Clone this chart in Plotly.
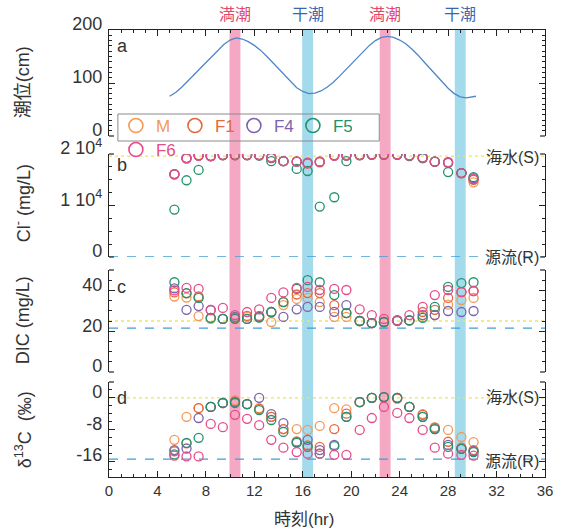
import plotly.graph_objects as go

# ---------------- data ----------------
tide_t = [5.0, 5.5, 6.0, 6.5, 7.0, 7.5, 8.0, 8.5, 9.0, 9.5, 10.0, 10.3, 10.5, 11.0, 11.5, 12.0,
          12.5, 13.0, 13.5, 14.0, 14.5, 15.0, 15.5, 16.0, 16.5, 17.0, 17.5, 18.0, 18.5, 19.0,
          19.5, 20.0, 20.5, 21.0, 21.5, 22.0, 22.5, 23.0, 23.5, 24.0, 24.5, 25.0, 25.5, 26.0,
          26.5, 27.0, 27.5, 28.0, 28.5, 29.0, 29.5, 30.0, 30.3]
tide_cm = [75, 82, 92, 103, 115, 127, 139, 151, 163, 173, 181, 184, 185, 183, 178, 171,
           162, 151, 139, 126, 113, 101, 91, 84, 80, 81, 85, 92, 101, 112,
           124, 137, 149, 160, 171, 180, 186, 188, 186, 181, 174, 164, 153, 140,
           127, 114, 101, 90, 80, 74, 72, 74, 75]

times = [5.4, 6.4, 7.4, 8.4, 9.4, 10.4, 11.4, 12.4, 13.4, 14.4, 15.5, 16.4, 17.4, 18.6,
         19.6, 20.7, 21.7, 22.7, 23.8, 24.8, 25.9, 26.9, 28.0, 29.1, 30.1]

series = ["M", "F1", "F4", "F5", "F6"]
colors = {"M": "#F39A58", "F1": "#E4683E", "F4": "#7D62AE", "F5": "#23936A", "F6": "#E64B8B"}

cl = {
    "M":  [16100, 19200, 19800, 19600, 19800, 19800, 19800, 19800, 19400, 18600, 18600, 18200, 18500,
           19800, 19800, 19800, 19900, 19900, 19900, 19700, 19300, 18500, 18400, 16300, 14500],
    "F1": [16000, 19100, 19700, 19600, 19800, 19800, 19800, 19800, 19300, 18600, 18500, 18200, 18400,
           19700, 19700, 19800, 19900, 19900, 19900, 19700, 19300, 18500, 18300, 16300, 15000],
    "F4": [16100, 19200, 19700, 19600, 19800, 19800, 19800, 19800, 19200, 18600, 18500, 18300, 18500,
           19700, 19700, 19800, 19900, 19900, 19900, 19700, 19200, 18500, 18300, 16300, 15300],
    "F5": [9200, 14900, 16900, 19600, 19800, 19800, 19800, 19700, 18600, 18600, 17100, 16700, 9800,
           11600, 18600, 19800, 19900, 19900, 19900, 19600, 19200, 18500, 16500, 16300, 15500],
    "F6": [16100, 19200, 19700, 19600, 19800, 19800, 19800, 19800, 19300, 18600, 18500, 18200, 18500,
           19700, 19800, 19800, 19900, 19900, 19900, 19700, 19300, 18500, 18400, 16300, 15100],
}
dic = {
    "M":  [37, 36.5, 27.4, 26, 26, 26, 27, 27, 24.5, 32.8, 35.8, 36.3, 34.3, 27, 27, 25, 24, 24.5,
           25.3, 25.3, 27, 28, 33, 35.3, 36.3],
    "F1": [39, 38.5, 37, 26.5, 26, 26.5, 27.5, 27.5, 29.4, 34.3, 38, 38.7, 38.7, 32.8, 28.9, 25, 24,
           24.5, 25.3, 25.3, 29.4, 30.5, 36.3, 39.2, 39.7],
    "F4": [41, 30.5, 32.3, 30.4, 26, 27, 26, 27, 29.4, 27, 30.7, 31.9, 31.9, 29.5, 32.8, 25, 24,
           24.5, 25, 25.3, 27.9, 27.9, 29.9, 29.4, 29.9],
    "F5": [44, 38.7, 36.3, 26.5, 26, 26, 26, 26.7, 29.4, 34.3, 40.7, 45, 44, 37.7, 28.9, 25, 24,
           24.5, 25.3, 25.3, 26.5, 31.9, 41.7, 43.6, 44],
    "F6": [40, 41.2, 40.7, 30.4, 31.4, 27.9, 29.4, 30.7, 36.3, 39, 41.2, 41.7, 40.2, 40.7, 40.2,
           30.7, 27.9, 26, 25.3, 27.9, 31.9, 37.7, 40.2, 39.2, 39.7],
}
d13c = {
    "M":  [-10.6, -4.8, -2.6, -2.3, -1.3, -0.6, -1.6, -2.6, -4.8, -7.9, -7.9, -8.1, -7.1, -2.6,
           -2.9, -1.1, 0, 0.2, 0, -2.3, -4.1, -7.4, -8.1, -9.9, -11.2],
    "F1": [-13.5, -11.5, -2.6, -2.3, -1.3, -0.9, -1.6, -2.8, -4.8, -7.9, -11.0, -12.0, -12.4, -7.9,
           -4.0, -1.1, 0, 0.2, -0.2, -2.3, -4.3, -7.6, -11.1, -12.6, -13.2],
    "F4": [-13.2, -12.8, -5.1, -2.3, -1.3, -1.1, -1.6, 0, -4.1, -6.4, -11.2, -10.6, -13.2, -11.9,
           -4.8, -1.1, 0, 0.2, 0, -2.3, -4.8, -7.9, -11.9, -12.9, -13.5],
    "F5": [-14.3, -11.4, -10.1, -2.3, -1.3, -1.3, -1.6, -3.1, -5.6, -8.6, -11.4, -12.4, -14.1, -12.2,
           -4.8, -1.1, 0, 0.2, 0, -2.3, -4.8, -7.9, -12.4, -12.9, -13.7],
    "F6": [-14.6, -14.8, -14.8, -6.6, -7.4, -4.3, -5.3, -6.9, -10.6, -12.6, -13.7, -14.1, -14.1, -14.4,
           -14.4, -8.1, -5.1, -2.3, -3.8, -5.1, -8.1, -12.6, -14.1, -14.4, -14.6],
}

high_tide = [10.4, 22.8]
low_tide = [16.4, 29.0]
band_w = 0.9

sea_ref = {"y2": 19600, "y3": 25.0, "y4": 0.0}
src_ref = {"y2": 0.0, "y3": 21.5, "y4": -15.5}

x_ticks = list(range(0, 37, 4))

# ---------------- layout geometry ----------------
W, H = 565, 529
L, R, T, B = 109, 14, 30, 52
PW, PH = W - L - R, H - T - B


def py(pix):  # pixel y (from top) -> paper
    return (H - B - pix) / PH


def px(pix):
    return (pix - L) / PW


dom = {
    "y": [py(136), 1.0],
    "y2": [py(257), py(154)],
    "y3": [py(372), py(270)],
    "y4": [0.0, py(382)],
}

FONT = "Liberation Sans, Arial, Noto Sans CJK JP, sans-serif"
AX = "#222222"
TXT = "#333333"

fig = go.Figure()

# tide curve
fig.add_trace(go.Scatter(x=tide_t, y=tide_cm, mode="lines", xaxis="x2", yaxis="y",
                         line=dict(color="#4F86C6", width=1.3), showlegend=False))

for yax, data in (("y2", cl), ("y3", dic), ("y4", d13c)):
    for s in series:
        fig.add_trace(go.Scatter(
            x=times, y=data[s], mode="markers", xaxis="x", yaxis=yax, showlegend=False,
            marker=dict(symbol="circle-open", size=9, color=colors[s], line=dict(width=1.3))))

# legend-only traces
for s in series:
    fig.add_trace(go.Scatter(
        x=[None], y=[None], mode="markers", name=f"<span style='color:{colors[s]}'>{s}</span>",
        marker=dict(symbol="circle-open", size=14, color=colors[s], line=dict(width=1.6)),
        legend="legend2" if s == "F6" else "legend", xaxis="x", yaxis="y2"))

shapes = []
# tide bands
for c in high_tide:
    shapes.append(dict(type="rect", xref="x", yref="paper", x0=c - band_w / 2, x1=c + band_w / 2,
                       y0=0, y1=1, fillcolor="#F5A8C3", line=dict(width=0), layer="below"))
for c in low_tide:
    shapes.append(dict(type="rect", xref="x", yref="paper", x0=c - band_w / 2, x1=c + band_w / 2,
                       y0=0, y1=1, fillcolor="#A3DAEC", line=dict(width=0), layer="below"))
# reference lines
for yax in ("y2", "y3", "y4"):
    shapes.append(dict(type="line", xref="x", yref=yax, x0=0, x1=36, y0=sea_ref[yax], y1=sea_ref[yax],
                       line=dict(color="#EEE45A", width=1.3, dash="dot"), layer="below"))
    shapes.append(dict(type="line", xref="x", yref=yax, x0=0, x1=36, y0=src_ref[yax], y1=src_ref[yax],
                       line=dict(color="#3EA0D6", width=1.3, dash="dash"), layer="below"))
# end caps of open frames
cap = 5 / PW
for yv in (dom["y"][0], dom["y2"][0], dom["y2"][1], dom["y3"][0], dom["y3"][1], dom["y4"][1]):
    for x0, x1 in ((0, cap), (1 - cap, 1)):
        shapes.append(dict(type="line", xref="paper", yref="paper", x0=x0, x1=x1, y0=yv, y1=yv,
                           line=dict(color=AX, width=1.2)))
# legend box
shapes.append(dict(type="rect", xref="paper", yref="paper", x0=px(118), x1=px(383), y0=py(141), y1=py(114),
                   line=dict(color="#8A8A8A", width=1), fillcolor="rgba(0,0,0,0)"))

ann = []
# axis titles
for text, cy in (("潮位(cm)", 82), ("Cl<sup>-</sup> (mg/L)", 203), ("DIC (mg/L)", 320),
                 ("δ<sup>13</sup>C  (‰)", 430)):
    ann.append(dict(text=text, xref="paper", yref="paper", x=px(22), y=py(cy), showarrow=False,
                    textangle=-90, font=dict(size=18, color=TXT, family=FONT), xanchor="center",
                    yanchor="middle"))
ann.append(dict(text="時刻(hr)", xref="paper", yref="paper", x=px(307), y=py(519), showarrow=False,
                font=dict(size=17, color=TXT, family=FONT), xanchor="center", yanchor="middle"))
# panel letters
for t, cy in (("a", 46), ("b", 165), ("c", 287), ("d", 398)):
    ann.append(dict(text=t, xref="paper", yref="paper", x=px(115), y=py(cy), showarrow=False,
                    font=dict(size=18, color=TXT, family=FONT), xanchor="left", yanchor="middle"))
# band labels
for c in high_tide:
    ann.append(dict(text="満潮", xref="x", yref="paper", x=c, y=py(15), showarrow=False,
                    font=dict(size=16, color="#E4476E", family=FONT), xanchor="center", yanchor="middle"))
for c in low_tide:
    ann.append(dict(text="干潮", xref="x", yref="paper", x=c, y=py(15), showarrow=False,
                    font=dict(size=16, color="#3A68B0", family=FONT), xanchor="center", yanchor="middle"))
# reference labels
for t, cy in (("海水(S)", 157), ("源流(R)", 257), ("海水(S)", 397), ("源流(R)", 461)):
    ann.append(dict(text=t, xref="paper", yref="paper", x=px(547), y=py(cy), showarrow=False,
                    font=dict(size=16, color=TXT, family=FONT), xanchor="right", yanchor="middle"))

tickfont = dict(size=18, color=TXT, family=FONT)


def yaxis(domain, rng, tickvals, ticktext, minor):
    return dict(domain=domain, range=rng, anchor="x", tickvals=tickvals, ticktext=ticktext,
                showline=True, linecolor=AX, linewidth=1.2, mirror="ticks", ticks="inside",
                ticklen=6, tickcolor=AX, tickwidth=1.2, showgrid=False, zeroline=False,
                tickfont=tickfont, ticklabelshift=-6, ticklabelstandoff=2,
                minor=dict(dtick=minor, ticks="inside", ticklen=3, tickcolor=AX, tickwidth=1,
                           showgrid=False))


fig.update_layout(
    width=W, height=H, margin=dict(l=L, r=R, t=T, b=B), plot_bgcolor="white", paper_bgcolor="white",
    font=dict(family=FONT, color=TXT),
    xaxis=dict(domain=[0, 1], range=[0, 36], anchor="y4", tickvals=x_ticks, showline=True, linecolor=AX,
               linewidth=1.2, ticks="inside", ticklen=6, tickcolor=AX, tickwidth=1.2, showgrid=False,
               zeroline=False, tickfont=dict(size=15, color=TXT, family=FONT),
               minor=dict(dtick=1, ticks="inside", ticklen=3, tickcolor=AX, showgrid=False)),
    xaxis2=dict(domain=[0, 1], range=[0, 36], anchor="y", side="top", matches="x", tickvals=x_ticks,
                showticklabels=False, showline=True, linecolor=AX, linewidth=1.2, ticks="inside",
                ticklen=6, tickcolor=AX, tickwidth=1.2, showgrid=False, zeroline=False,
                minor=dict(dtick=1, ticks="inside", ticklen=3, tickcolor=AX, showgrid=False)),
    yaxis=yaxis(dom["y"], [0, 200], [0, 100, 200], ["0", "100", "200"], 10),
    yaxis2=yaxis(dom["y2"], [0, 20000], [0, 10000, 20000], ["0", "1 10<sup>4</sup>", "2 10<sup>4</sup>"],
                 2500),
    yaxis3=yaxis(dom["y3"], [0, 50], [0, 20, 40], ["0", "20", "40"], 5),
    yaxis4=yaxis(dom["y4"], [-20, 4], [-16, -8, 0], ["-16", "-8", "0"], 2),
    legend=dict(orientation="h", x=px(116), y=py(108), xanchor="left", yanchor="top",
                bgcolor="rgba(0,0,0,0)", borderwidth=0, font=dict(size=17, family=FONT),
                entrywidth=14, entrywidthmode="pixels", itemsizing="trace", itemwidth=30),
    legend2=dict(orientation="h", x=px(116), y=py(132), xanchor="left", yanchor="top",
                 bgcolor="rgba(0,0,0,0)", borderwidth=0, font=dict(size=17, family=FONT),
                 itemsizing="trace", itemwidth=30),
    shapes=shapes, annotations=ann,
)

fig.write_html("out.html", config={"displayModeBar": False})

# remove the browser's default page margin so the figure sits at the window origin
with open("out.html", encoding="utf-8") as f:
    html = f.read()
html = html.replace("<body>", '<body style="margin:0;padding:0">', 1)
with open("out.html", "w", encoding="utf-8") as f:
    f.write(html)
